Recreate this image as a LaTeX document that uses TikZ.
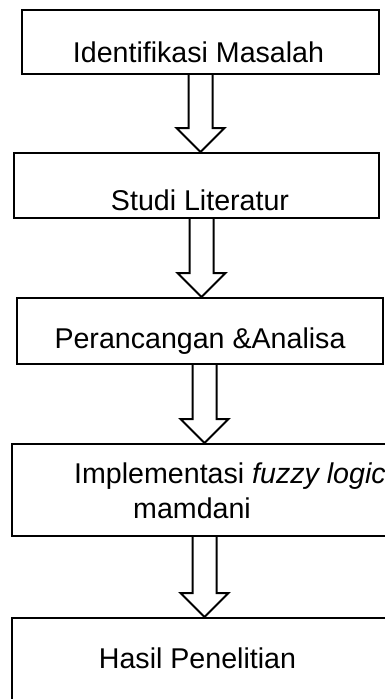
\documentclass[tikz,border=0pt]{standalone}
\usepackage{fontspec}
\setmainfont{Liberation Sans}
\usetikzlibrary{calc}

\newcommand{\blockarrow}[3]{%
\draw[arrowline] let \p1=(#2.south -| #1,0), \p2=(#3.north -| #1,0) in
  (\x1-12,\y1) -- (\x1-12,\y2+24) -- (\x1-24,\y2+24) -- (\x1,\y2)
  -- (\x1+24,\y2+24) -- (\x1+12,\y2+24) -- (\x1+12,\y1);}

\begin{document}
\begin{tikzpicture}[x=1pt,y=-1pt]
\tikzstyle{every node}=[font=\fontsize{28.6}{35}\selectfont]
\tikzstyle{stage}=[draw, line width=2pt, inner sep=0pt]
\tikzset{arrowline/.style={line width=2pt}}
\useasboundingbox (0,0) rectangle (385,699);
\clip (0,0) rectangle (385,699);
\node at (200.5,42) [stage, minimum width=357pt, minimum height=64pt] (b1) {};
\node at (196.5,185.5) [stage, minimum width=365pt, minimum height=65pt] (b2) {};
\node at (200,331) [stage, minimum width=366pt, minimum height=66pt] (b3) {};
\node at (216,490) [stage, minimum width=408pt, minimum height=92pt] (b4) {};
\node at (216,679) [stage, minimum width=408pt, minimum height=122pt] (b5) {};
\node at (198.5,62) [anchor=base] (t1) {Identifikasi Masalah};
\node at (200,210) [anchor=base] (t2) {Studi Literatur};
\node at (200,348) [anchor=base] (t3) {Perancangan \&Analisa};
\node at (74,518) [anchor=base west, align=left, inner sep=0pt] (t4)
  {Implementasi \textit{fuzzy logic}\\\hspace*{59pt}mamdani};
\node at (197.5,668) [anchor=base] (t5) {Hasil Penelitian};
\blockarrow{200.5}{b1}{b2}
\blockarrow{201.5}{b2}{b3}
\blockarrow{204.5}{b3}{b4}
\blockarrow{204.5}{b4}{b5}
\end{tikzpicture}
\end{document}
